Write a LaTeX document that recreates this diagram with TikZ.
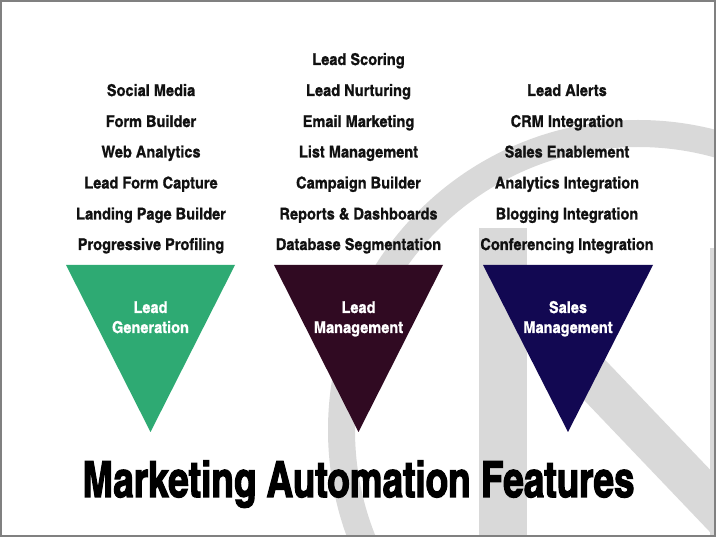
\documentclass[tikz,border=0pt]{standalone}
\usepackage{fontspec}
\newfontfamily\cnfont{texgyreheroscn-bold.otf}[FakeStretch=1.09, FakeBold=0.8]
\newfontfamily\cntitlefont{texgyreheroscn-bold.otf}[FakeStretch=0.9, FakeBold=2.2]
\definecolor{ringgray}{RGB}{217,217,217}
\definecolor{leadgreen}{RGB}{46,170,115}
\definecolor{leadplum}{RGB}{48,10,34}
\definecolor{salesnavy}{RGB}{18,8,82}
\definecolor{framegray}{RGB}{128,128,128}
\definecolor{inkblack}{RGB}{17,17,17}
\begin{document}
\begin{tikzpicture}[x=1pt,y=-1pt,
  item/.style={anchor=base, inner sep=0pt, text=inkblack,
    font=\cnfont\fontsize{16.3}{16}\selectfont},
  trilabel/.style={anchor=base, inner sep=0pt, text=white,
    font=\cnfont\fontsize{16.3}{16}\selectfont},
  titlestyle/.style={anchor=base, inner sep=0pt, text=black,
    font=\cntitlefont\fontsize{50}{50}\selectfont},
  backshape/.style={fill=ringgray, draw=none}]
\useasboundingbox (0,0) rectangle (716,537);
\fill[white] (0,0) rectangle (716,537);
% background logo
\begin{scope}
  \clip (0,0) rectangle (716,537);
  \draw[ringgray, line width=27pt] (638,430) circle[radius=296.5pt];
  \fill[backshape] (479,228) rectangle (527,540);
  \fill[backshape] (479,228) -- (730,490.5) -- (730,553) -- (479,290) -- cycle;
  \fill[backshape] (710,248) rectangle (760,540);
\end{scope}
% triangles
\fill[leadgreen] (66,265) -- (235,265) -- (150.5,432) -- cycle;
\fill[leadplum] (274,265) -- (443,265) -- (358.5,432) -- cycle;
\fill[salesnavy] (483,265) -- (653,265) -- (568,432) -- cycle;
\node[trilabel] (g1) at (150.5,313) {Lead};
\node[trilabel] (g2) at (150.5,333) {Generation};
\node[trilabel] (m1) at (358.5,313) {Lead};
\node[trilabel] (m2) at (358.5,333) {Management};
\node[trilabel] (s1) at (568,313) {Sales};
\node[trilabel] (s2) at (568,333) {Management};
% column 1
\node[item] (a1) at (151,96) {Social Media};
\node[item] (a2) at (151,127) {Form Builder};
\node[item] (a3) at (151,157.5) {Web Analytics};
\node[item] (a4) at (151,188.5) {Lead Form Capture};
\node[item] (a5) at (151,219.5) {Landing Page Builder};
\node[item] (a6) at (151,250) {Progressive Profiling};
% column 2
\node[item] (b0) at (358.5,65) {Lead Scoring};
\node[item] (b1) at (358.5,96) {Lead Nurturing};
\node[item] (b2) at (358.5,127) {Email Marketing};
\node[item] (b3) at (358.5,157.5) {List Management};
\node[item] (b4) at (358.5,188.5) {Campaign Builder};
\node[item] (b5) at (358.5,219.5) {Reports \& Dashboards};
\node[item] (b6) at (358.5,250) {Database Segmentation};
% column 3
\node[item] (c1) at (567,96) {Lead Alerts};
\node[item] (c2) at (567,127) {CRM Integration};
\node[item] (c3) at (567,157.5) {Sales Enablement};
\node[item] (c4) at (567,188.5) {Analytics Integration};
\node[item] (c5) at (567,219.5) {Blogging Integration};
\node[item] (c6) at (567,250) {Conferencing Integration};
% title
\node[titlestyle] (title) at (358.5,497) {Marketing Automation Features};
% frame
\draw[framegray, line width=2pt] (1,1) rectangle (715,536);
\end{tikzpicture}
\end{document}
